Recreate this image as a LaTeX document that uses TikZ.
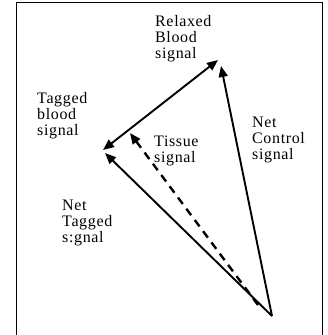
\documentclass[tikz,border=0pt]{standalone}
\usepackage{fontspec}
\setmainfont[LetterSpace=4]{Liberation Serif}
\usetikzlibrary{arrows.meta}
\tikzset{
  lbl/.style={anchor=base west, align=left, inner sep=0pt, font=\fontsize{16}{15.8}\selectfont},
  vec/.style={line width=1.9pt, -{Triangle[length=11pt,width=9pt]}},
  dvec/.style={line width=1.9pt, {Triangle[length=11pt,width=9pt]}-{Triangle[length=11pt,width=9pt]}},
  tvec/.style={line width=2.4pt, dash pattern=on 8pt off 6pt, -{Triangle[length=11pt,width=9pt]}},
  frame/.style={line width=1.5pt}
}
\begin{document}
\begin{tikzpicture}[x=1pt,y=-1pt]
\useasboundingbox (0,0) rectangle (328,335);
\draw[frame] (16.3,335) -- (16.3,2.3) -- (322.7,2.3) -- (322.7,335);
\coordinate (apex) at (272,316);
\coordinate (relax) at (218,60);
\coordinate (ctrl) at (221,66);
\coordinate (tag) at (103,150);
\coordinate (ntag) at (105,153);
\coordinate (tis) at (130,133);
\coordinate (tstart) at (258,305);
\draw[vec] (apex) -- (ctrl);
\draw[dvec] (tag) -- (relax);
\draw[vec] (apex) -- (ntag);
\draw[tvec] (tstart) -- (tis);
\node[lbl] (lrelax) at (155,58) {Relaxed\\Blood\\signal};
\node[lbl] (ltag) at (37,135) {Tagged\\blood\\signal};
\node[lbl] (ltis) at (154,162) {Tissue\\signal};
\node[lbl] (lctrl) at (252,159) {Net\\Control\\signal};
\node[lbl] (lntag) at (62,242) {Net\\Tagged\\s:gnal};
\end{tikzpicture}
\end{document}
